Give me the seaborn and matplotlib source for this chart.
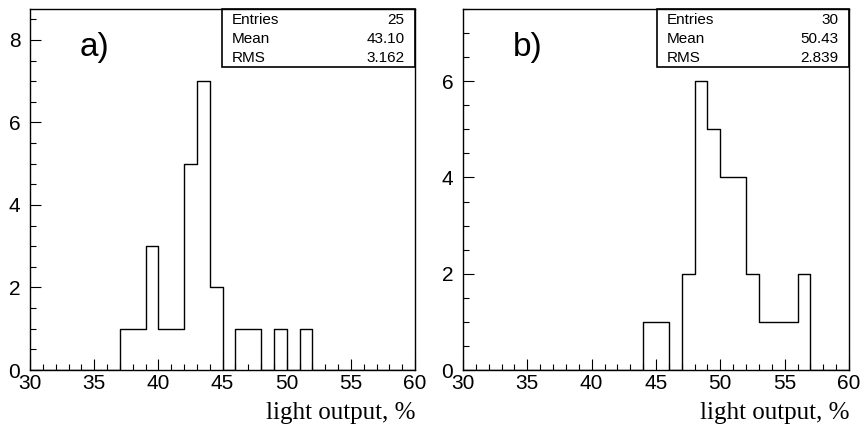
import numpy as np
import pandas as pd
import matplotlib
matplotlib.use("Agg")
import matplotlib.pyplot as plt
import seaborn as sns
from matplotlib.patches import Rectangle
from matplotlib.ticker import MultipleLocator

# bin centres, 1 % wide bins from 30 to 60
bin_centers = np.arange(30.5, 60.5, 1.0)

# counts per bin (30 bins, 30..60)
counts_a = [0, 0, 0, 0, 0, 0, 0, 1, 1, 3,
            1, 1, 5, 7, 2, 0, 1, 1, 0, 1,
            0, 1, 0, 0, 0, 0, 0, 0, 0, 0]
counts_b = [0, 0, 0, 0, 0, 0, 0, 0, 0, 0,
            0, 0, 0, 0, 1, 1, 0, 2, 6, 5,
            4, 4, 2, 1, 1, 1, 2, 0, 0, 0]

panel_labels = ["a)", "b)"]
stat_names = ["Entries", "Mean", "RMS"]
stats_a = ["25", "43.10", "3.162"]
stats_b = ["30", "50.43", "2.839"]
ymax = [8.75, 7.5]
ymajor = [2, 2]

sns.set_style("white")
plt.rcParams["font.family"] = ["Liberation Sans", "DejaVu Sans"]
plt.rcParams["text.color"] = "black"

fig = plt.figure(figsize=(8.63, 4.29), dpi=100)
ax_a = fig.add_axes([30 / 863, 1 - 370 / 429, 385 / 863, 361 / 429])
ax_b = fig.add_axes([463 / 863, 1 - 370 / 429, 386 / 863, 361 / 429])

panels = [(ax_a, counts_a, stats_a), (ax_b, counts_b, stats_b)]
for i, (ax, counts, stats) in enumerate(panels):
    df = pd.DataFrame({"x": bin_centers, "n": counts})
    sns.histplot(data=df, x="x", weights="n", binwidth=1, binrange=(30, 60),
                 element="step", fill=False, color="black", linewidth=1.0, ax=ax)
    ax.set_xlim(30, 60)
    ax.set_ylim(0, ymax[i])
    ax.set_ylabel("")
    ax.xaxis.set_major_locator(MultipleLocator(5))
    ax.xaxis.set_minor_locator(MultipleLocator(1))
    ax.yaxis.set_major_locator(MultipleLocator(ymajor[i]))
    ax.yaxis.set_minor_locator(MultipleLocator(0.5))
    ax.tick_params(which="both", direction="in", top=False, right=False,
                   left=True, bottom=True, colors="black", width=0.8)
    ax.tick_params(which="major", length=8, labelsize=15)
    ax.tick_params(which="minor", length=4)
    ax.tick_params(axis="y", which="major", pad=7)
    ax.tick_params(axis="x", which="major", pad=3)
    for sp in ax.spines.values():
        sp.set_color("black")
        sp.set_linewidth(1.0)

    ax.set_xlabel("light output, %", loc="right", fontsize=18, color="black",
                  fontfamily="Liberation Serif", labelpad=6)

    ax.text(0.13, 0.892, panel_labels[i], transform=ax.transAxes,
            fontsize=24, ha="left", va="center", fontweight="light")

    # stats box
    x0 = 0.4987 if i == 0 else 0.5026
    ax.add_patch(Rectangle((x0, 0.839), 1 - x0, 0.161, transform=ax.transAxes,
                           fill=False, edgecolor="black", linewidth=1.2,
                           clip_on=False, zorder=5))
    for j, (name, val) in enumerate(zip(stat_names, stats)):
        yy = 0.9695 - j * 0.0527
        ax.text(x0 + 0.026, yy, name, transform=ax.transAxes, fontsize=11,
                ha="left", va="center")
        ax.text(0.973, yy, val, transform=ax.transAxes, fontsize=11,
                ha="right", va="center")

fig.savefig("out.png", dpi=100)
